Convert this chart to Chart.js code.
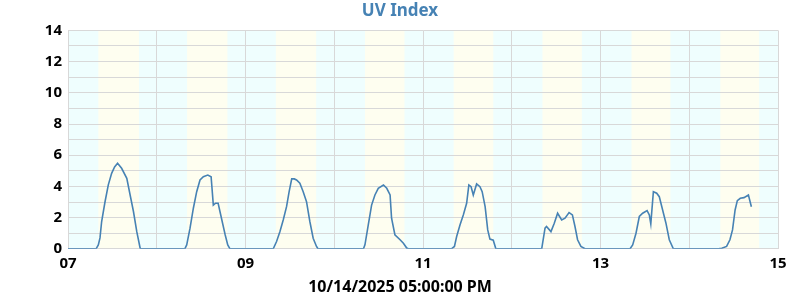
<!DOCTYPE html>
<html>
<head>
<meta charset="utf-8">
<script src="https://cdn.jsdelivr.net/npm/chart.js@4"></script>
<style>
  body { margin: 0; background: white; }
  #wrap { width: 800px; height: 300px; }
</style>
</head>
<body>
<div id="wrap"><canvas id="myChart"></canvas></div>
<script>
// hours since 10/07 00:00, and the UV reading at that time
const hours = [
  0, 7.6, 8.2, 8.65, 9.1, 10.0, 10.9, 11.8, 12.6, 13.4, 14.5, 15.9, 16.8, 17.7, 18.6, 19.5, 19.7,
  31.6, 32.1, 33.0, 33.9, 34.8, 35.7, 36.6, 37.8, 38.7, 39.3, 39.9, 40.6, 41.5, 42.5, 43.2, 43.8,
  55.5, 56.4, 57.3, 58.2, 59.1, 59.8, 60.5, 61.2, 61.8, 62.7, 63.6, 64.5, 65.4, 66.3, 67.2, 67.6,
  79.9, 80.3, 81.2, 82.1, 83.0, 83.9, 85.3, 86.2, 87.1, 87.5, 88.4, 89.8, 90.7, 91.6, 92.0,
  103.7, 104.5, 105.1, 106.0, 106.9, 107.8, 108.4, 109.0, 109.6, 110.5, 111.4, 112.0, 112.8, 113.5, 114.1, 115.0, 115.7,
  128.1, 129.0, 129.4, 130.6, 131.5, 132.4, 133.5, 134.4, 135.5, 136.4, 137.1, 137.8, 138.7, 139.8,
  152.0, 152.7, 153.6, 154.5, 155.4, 156.6, 157.2, 157.6, 158.3, 159.2, 159.9, 160.8, 161.7, 162.6, 163.7,
  175.9, 176.8, 178.1, 179.0, 179.7, 180.4, 181.0, 181.8, 182.8, 184.0, 184.8
];
const uv = [
  0, 0, 0.25, 0.7, 1.75, 3.0, 4.1, 4.84, 5.25, 5.48, 5.16, 4.52, 3.45, 2.39, 1.1, 0.05, 0,
  0, 0.25, 1.32, 2.6, 3.66, 4.41, 4.62, 4.73, 4.62, 2.8, 2.92, 2.92, 1.96, 0.9, 0.25, 0,
  0, 0.47, 1.1, 1.85, 2.7, 3.66, 4.48, 4.48, 4.41, 4.2, 3.66, 3.02, 1.75, 0.68, 0.15, 0,
  0, 0.25, 1.53, 2.8, 3.45, 3.88, 4.09, 3.88, 3.45, 1.96, 0.9, 0.58, 0.36, 0.05, 0,
  0, 0.15, 0.79, 1.53, 2.17, 2.92, 4.09, 3.98, 3.45, 4.16, 3.98, 3.66, 2.7, 1.21, 0.62, 0.55, 0,
  0, 1.32, 1.43, 1.1, 1.64, 2.28, 1.85, 1.96, 2.32, 2.17, 1.43, 0.58, 0.15, 0,
  0, 0.25, 1.0, 2.07, 2.28, 2.45, 2.17, 1.6, 3.66, 3.56, 3.34, 2.49, 1.64, 0.58, 0,
  0, 0.04, 0.15, 0.58, 1.21, 2.49, 3.09, 3.24, 3.28, 3.45, 2.7
];

// daylight bands (hour of day) for 07..14
const sunrise = [8.2, 8.2, 8.2, 8.3, 8.3, 8.3, 8.4, 8.4];
const sunset = [19.2, 19.1, 19.1, 19.0, 19.0, 18.95, 18.9, 18.9];

const firstDay = 7;
const dayCount = 8;
const titleText = "UV Index";
const xTitleText = "10/14/2025 05:00:00 PM";

const points = hours.map((h, i) => ({ x: h, y: uv[i] }));

// paint night (cyan) and day (yellow) behind the grid
const bandPlugin = {
  id: "bands",
  beforeDraw(chart) {
    const { ctx, chartArea, scales } = chart;
    const x = scales.x;
    ctx.save();
    ctx.fillStyle = "#effefe";
    ctx.fillRect(chartArea.left, chartArea.top, chartArea.right - chartArea.left, chartArea.bottom - chartArea.top);
    ctx.fillStyle = "#fefef0";
    for (let d = 0; d < dayCount; d++) {
      const x1 = x.getPixelForValue(d * 24 + sunrise[d]);
      const x2 = x.getPixelForValue(d * 24 + sunset[d]);
      ctx.fillRect(x1, chartArea.top, x2 - x1, chartArea.bottom - chartArea.top);
    }
    ctx.restore();
  }
};

const tickFont = { family: "Noto Sans", size: 15, weight: "bold" };

new Chart(document.getElementById("myChart"), {
  type: "line",
  data: {
    datasets: [{
      data: points,
      borderColor: "#4682b4",
      borderWidth: 1.6,
      pointRadius: 0,
      tension: 0,
      fill: false
    }]
  },
  options: {
    responsive: true,
    maintainAspectRatio: false,
    animation: false,
    layout: { padding: 0 },
    plugins: {
      legend: { display: false },
      tooltip: { enabled: false },
      title: {
        display: true,
        text: titleText,
        color: "#4682b4",
        font: { family: "Noto Sans", size: 17, weight: "bold" },
        padding: { top: 1, bottom: 9 }
      },
      // the date line sits under the axis, centred on the whole picture
      subtitle: {
        display: true,
        position: "bottom",
        text: xTitleText,
        color: "#000",
        font: { family: "Noto Sans", size: 16, weight: "bold" },
        padding: { top: 0, bottom: 3 }
      }
    },
    scales: {
      x: {
        type: "linear",
        min: 0,
        max: dayCount * 24,
        afterFit: s => { s.height = 29; },
        grid: { color: "#d8d8d8", drawTicks: false },
        border: { color: "#d8d8d8" },
        ticks: {
          stepSize: 24,
          autoSkip: false,
          maxRotation: 0,
          padding: 6,
          color: "#000",
          font: tickFont,
          callback: v => {
            const day = firstDay + v / 24;
            return day % 2 === 1 ? String(day).padStart(2, "0") : "";
          }
        }
      },
      y: {
        min: 0,
        max: 14,
        afterFit: s => { s.width = 68; },
        grid: { color: "#d8d8d8", drawTicks: false },
        border: { color: "#d8d8d8" },
        ticks: {
          stepSize: 1,
          autoSkip: false,
          padding: 6,
          color: "#000",
          font: tickFont,
          callback: v => (v % 2 === 0 ? v : "")
        }
      },
      // empty strip on the right so the plot ends where the reference does
      yRight: {
        position: "right",
        min: 0,
        max: 14,
        afterFit: s => { s.width = 22; },
        grid: { drawOnChartArea: false, drawTicks: false },
        border: { display: false },
        ticks: { display: false }
      }
    }
  },
  plugins: [bandPlugin]
});
</script>
</body>
</html>
